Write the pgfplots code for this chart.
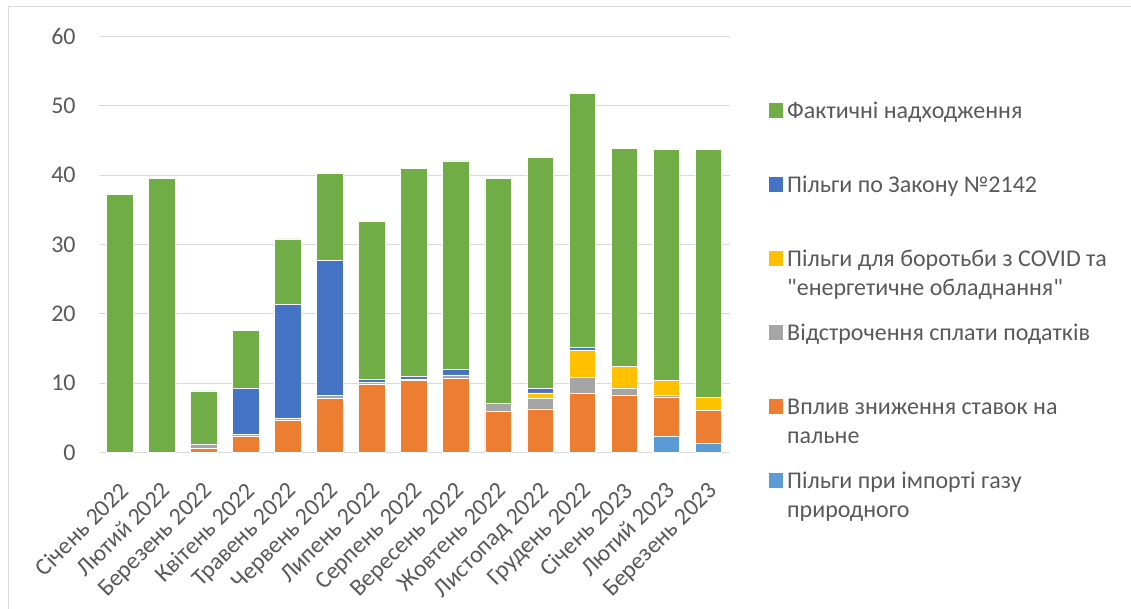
\documentclass[border=0pt]{standalone}
\usepackage{pgfplots}
\pgfplotsset{compat=1.18}
\usepackage{fontspec}
\setmainfont{Carlito}

\definecolor{cGreen}{HTML}{70AD47}
\definecolor{cBlue}{HTML}{4472C4}
\definecolor{cYellow}{HTML}{FFC000}
\definecolor{cGray}{HTML}{A5A5A5}
\definecolor{cOrange}{HTML}{ED7D31}
\definecolor{cLight}{HTML}{5B9BD5}
\definecolor{textgray}{HTML}{595959}
\definecolor{gridgray}{HTML}{D9D9D9}

\newcommand{\lbl}{\fontsize{12bp}{14.6bp}\selectfont}

% x: 0 = Січень 2022 ... 14 = Березень 2023
\pgfplotstableread{
x  gas   fuel   defer  covid  law    actual
0  0     0      0      0      0      37.25
1  0     0      0      0      0      39.60
2  0     0.60   0.55   0      0      7.70
3  0     2.26   0.34   0      6.69   8.31
4  0     4.62   0.34   0      16.44  9.40
5  0     7.80   0.43   0      19.44  12.65
6  0     9.77   0.29   0      0.43   22.90
7  0     10.40  0.19   0      0.38   30.03
8  0     10.60  0.57   0      0.82   30.07
9  0     5.87   1.20   0      0      32.50
10 0     6.26   1.54   0.77   0.67   33.33
11 0     8.47   2.31   4.00   0.33   36.70
12 0     8.28   1.01   3.08   0      31.55
13 2.36  5.58   0.24   2.22   0      33.34
14 1.25  4.75   0.08   1.90   0      35.80
}\datatable

\begin{document}
\begin{tikzpicture}
\useasboundingbox (0,0) rectangle (565.5bp,304.5bp);
\draw[gridgray, line width=0.5bp] (4.15bp,0) -- (4.15bp,301.2bp) -- (565.5bp,301.2bp);
\begin{axis}[
    at={(49.3bp,78.35bp)}, anchor=south west,
    scale only axis, width=315.5bp, height=207.8bp,
    ybar stacked, bar width=13.3bp,
    xmin=-0.5, xmax=14.5, ymin=0, ymax=60,
    enlargelimits=false,
    axis line style={draw=none},
    major tick length=0pt,
    ymajorgrids, major grid style={gridgray, line width=0.5bp},
    ytick={0,10,...,60},
    xtick={0,...,14},
    xticklabels={Січень 2022, Лютий 2022, Березень 2022, Квітень 2022,
        Травень 2022, Червень 2022, Липень 2022, Серпень 2022,
        Вересень 2022, Жовтень 2022, Листопад 2022, Грудень 2022,
        Січень 2023, Лютий 2023, Березень 2023},
    tick label style={font=\lbl, text=textgray},
    /pgf/number format/assume math mode=true,
    yticklabel style={inner sep=0pt, xshift=-11.3bp},
    xticklabel style={rotate=45, anchor=north east, inner sep=0pt, xshift=-10.5bp, yshift=-9.3bp},
    reverse legend,
    legend style={at={(1.0615,0.8532)}, anchor=north west, draw=none, fill=none,
        inner sep=0pt, row sep=0pt, column sep=2.1bp, font=\lbl, text=textgray,
        nodes={anchor=base west, inner sep=0pt, text height=10bp, text depth=27bp}},
    mybar/.style={fill=#1, draw=white, line width=0.4bp,
        legend image code/.code={\fill[#1] (0bp,0.45bp) rectangle (6.7bp,7.15bp);}},
]
\addplot[mybar=cLight] table[x=x, y=gas] {\datatable};
\addlegendentry{\parbox[t]{170bp}{Пільги при імпорті газу\\природного}}
\addplot[mybar=cOrange] table[x=x, y=fuel] {\datatable};
\addlegendentry{\parbox[t]{170bp}{Вплив зниження ставок на\\пальне}}
\addplot[mybar=cGray] table[x=x, y=defer] {\datatable};
\addlegendentry{Відстрочення сплати податків}
\addplot[mybar=cYellow] table[x=x, y=covid] {\datatable};
\addlegendentry{\parbox[t]{170bp}{Пільги для боротьби з COVID та\\\textquotedbl енергетичне обладнання\textquotedbl}}
\addplot[mybar=cBlue] table[x=x, y=law] {\datatable};
\addlegendentry{Пільги по Закону №2142}
\addplot[mybar=cGreen] table[x=x, y=actual] {\datatable};
\addlegendentry{Фактичні надходження}
\end{axis}
\end{tikzpicture}
\end{document}
